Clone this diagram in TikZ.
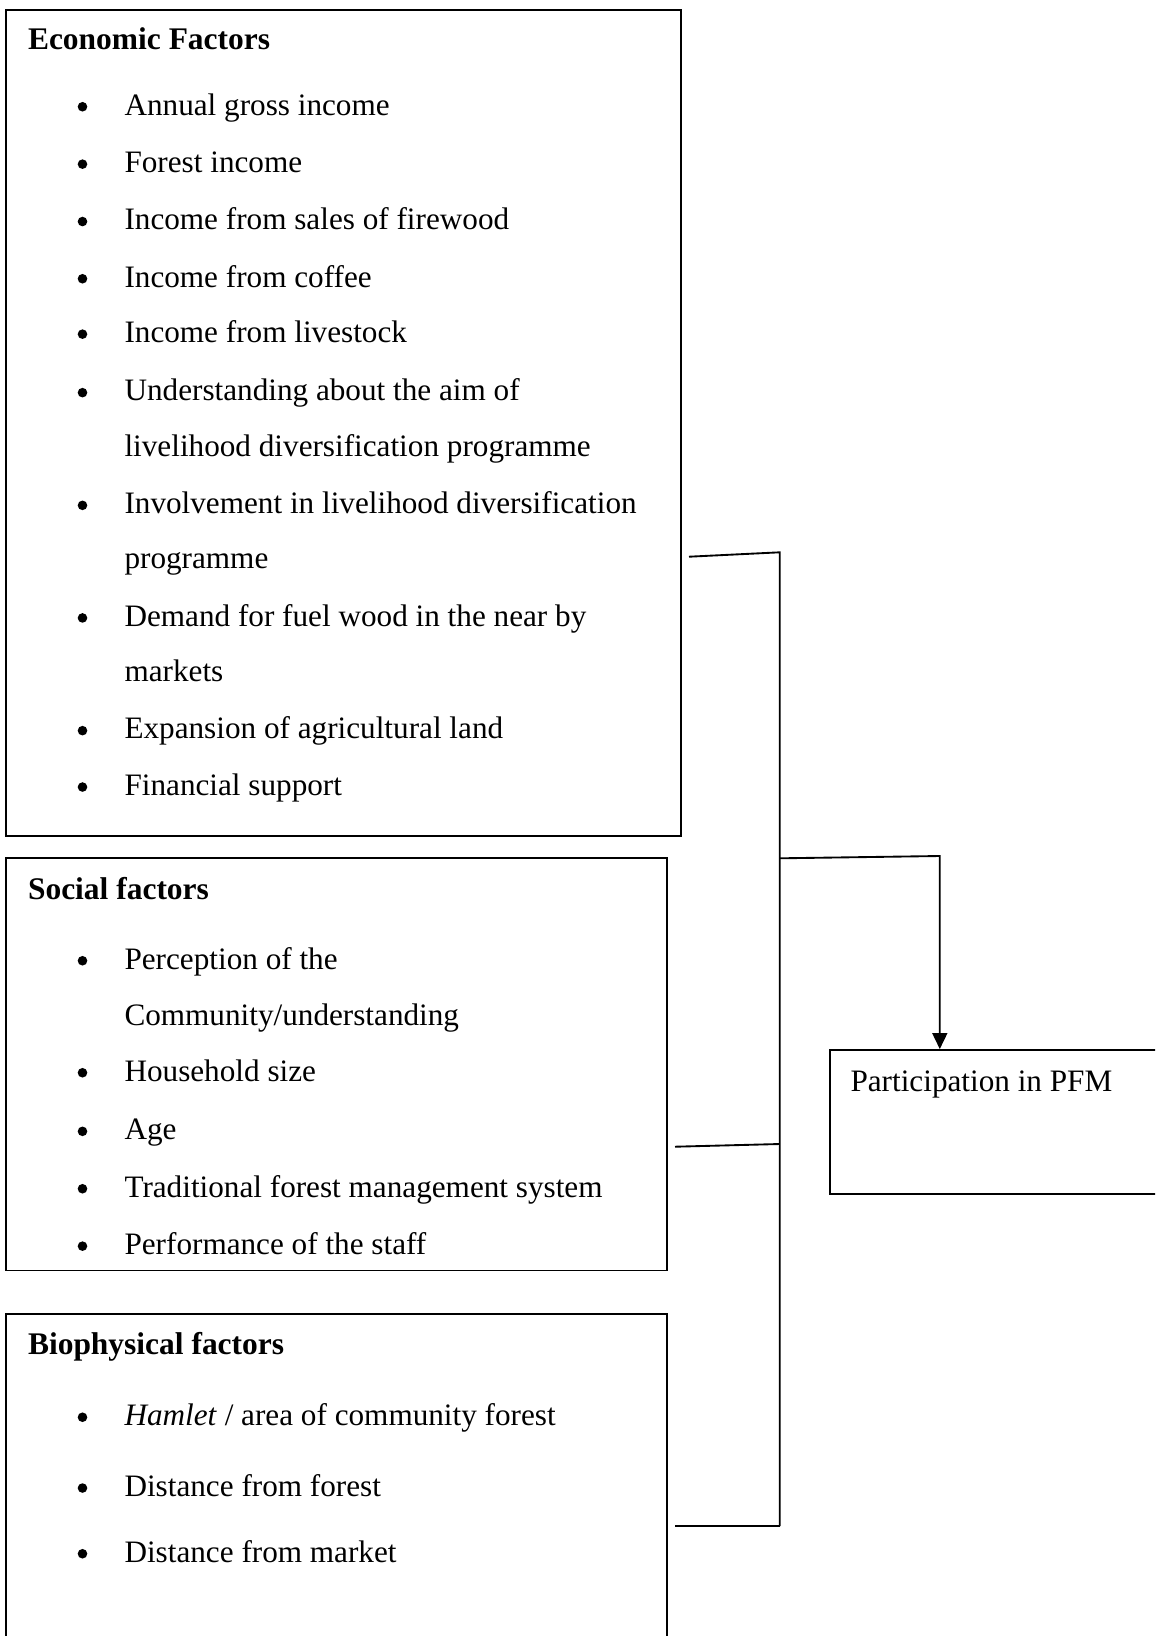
\documentclass[tikz,border=0pt]{standalone}
\usepackage{fontspec}
\setmainfont{Liberation Serif}
\usetikzlibrary{arrows.meta,fit}
\begin{document}
\begin{tikzpicture}[x=0.375pt,y=-0.375pt,
  box/.style={draw, line width=0.7pt, inner sep=0pt},
  txt/.style={anchor=base west, inner sep=0pt, font=\fontsize{11.7}{14}\selectfont},
  ttl/.style={anchor=base west, inner sep=0pt, font=\fontsize{11.8}{14}\selectfont\bfseries},
  blt/.style={circle, fill=black, inner sep=0pt, minimum size=3.6pt, yshift=3.1pt},
  conn/.style={line width=0.7pt}]
\useasboundingbox (0,0) rectangle (1155,1636);
\clip (0,0) rectangle (1155,1636);

% boxes
\node[box, fit={(6,10) (681,836)}] (econ) {};
\node[box, fit={(6,858.3) (667,1270.5)}] (social) {};
\node[box, fit={(6,1314) (667,1680)}] (bio) {};
\node[box, fit={(830,1050) (1200,1194)}] (pfm) {};

% Economic factors
\node[ttl] (et) at (27.5,49) {Economic Factors};
\node[blt] (eb1) at (82.5,115) {};   \node[txt] (e1) at (124,115) {Annual gross income};
\node[blt] (eb2) at (82.5,172.4) {}; \node[txt] (e2) at (124,172.4) {Forest income};
\node[blt] (eb3) at (82.5,229.8) {}; \node[txt] (e3) at (124,229.8) {Income from sales of firewood};
\node[blt] (eb4) at (82.5,287) {};   \node[txt] (e4) at (124,287) {Income from coffee};
\node[blt] (eb5) at (82.5,342.4) {}; \node[txt] (e5) at (124,342.4) {Income from livestock};
\node[blt] (eb6) at (82.5,400.9) {}; \node[txt] (e6) at (124,400.9) {Understanding about the aim of};
\node[txt] (e7) at (124,456.2) {livelihood diversification programme};
\node[blt] (eb8) at (82.5,513.6) {}; \node[txt] (e8) at (124,513.6) {Involvement in livelihood diversification};
\node[txt] (e9) at (124,568.9) {programme};
\node[blt] (eb10) at (82.5,626.2) {}; \node[txt] (e10) at (124,626.2) {Demand for fuel wood in the near by};
\node[txt] (e11) at (124,681.6) {markets};
\node[blt] (eb12) at (82.5,738.9) {}; \node[txt] (e12) at (124,738.9) {Expansion of agricultural land};
\node[blt] (eb13) at (82.5,795.3) {}; \node[txt] (e13) at (124,795.3) {Financial support};

% Social factors
\node[ttl] (st) at (27.5,899) {Social factors};
\node[blt] (sb1) at (82.5,969) {};    \node[txt] (s1) at (124,969) {Perception of the};
\node[txt] (s2) at (124,1025.5) {Community/understanding};
\node[blt] (sb3) at (82.5,1081) {};   \node[txt] (s3) at (124,1081) {Household size};
\node[blt] (sb4) at (82.5,1139.6) {}; \node[txt] (s4) at (124,1139.6) {Age};
\node[blt] (sb5) at (82.5,1197) {};   \node[txt] (s5) at (124,1197) {Traditional forest management system};
\node[blt] (sb6) at (82.5,1254.4) {}; \node[txt] (s6) at (124,1254.4) {Performance of the staff};

% Biophysical factors
\node[ttl] (bt) at (27.5,1354) {Biophysical factors};
\node[blt] (bb1) at (82.5,1425.5) {}; \node[txt] (b1) at (124,1425.5) {\textit{Hamlet} / area of community forest};
\node[blt] (bb2) at (82.5,1496.3) {}; \node[txt] (b2) at (124,1496.3) {Distance from forest};
\node[blt] (bb3) at (82.5,1562) {};   \node[txt] (b3) at (124,1562) {Distance from market};

% PFM
\node[txt] (pt) at (850,1091) {Participation in PFM};

% connector coordinates
\coordinate (ce) at (689,556.7);
\coordinate (je) at (779.8,552.3);
\coordinate (cs) at (675,1146.7);
\coordinate (js) at (779.8,1144);
\coordinate (cb) at (675,1526);
\coordinate (jb) at (779.8,1526);
\coordinate (jp) at (779.8,858.3);
\coordinate (kp) at (939.8,856);

\draw[conn] (ce) -- (je) -- (jb);
\draw[conn] (cs) -- (js);
\draw[conn] (cb) -- (jb);
\draw[conn, -{Triangle[length=6pt,width=5.6pt]}] (jp) -- (kp) -- (kp |- pfm.north);
\end{tikzpicture}
\end{document}
